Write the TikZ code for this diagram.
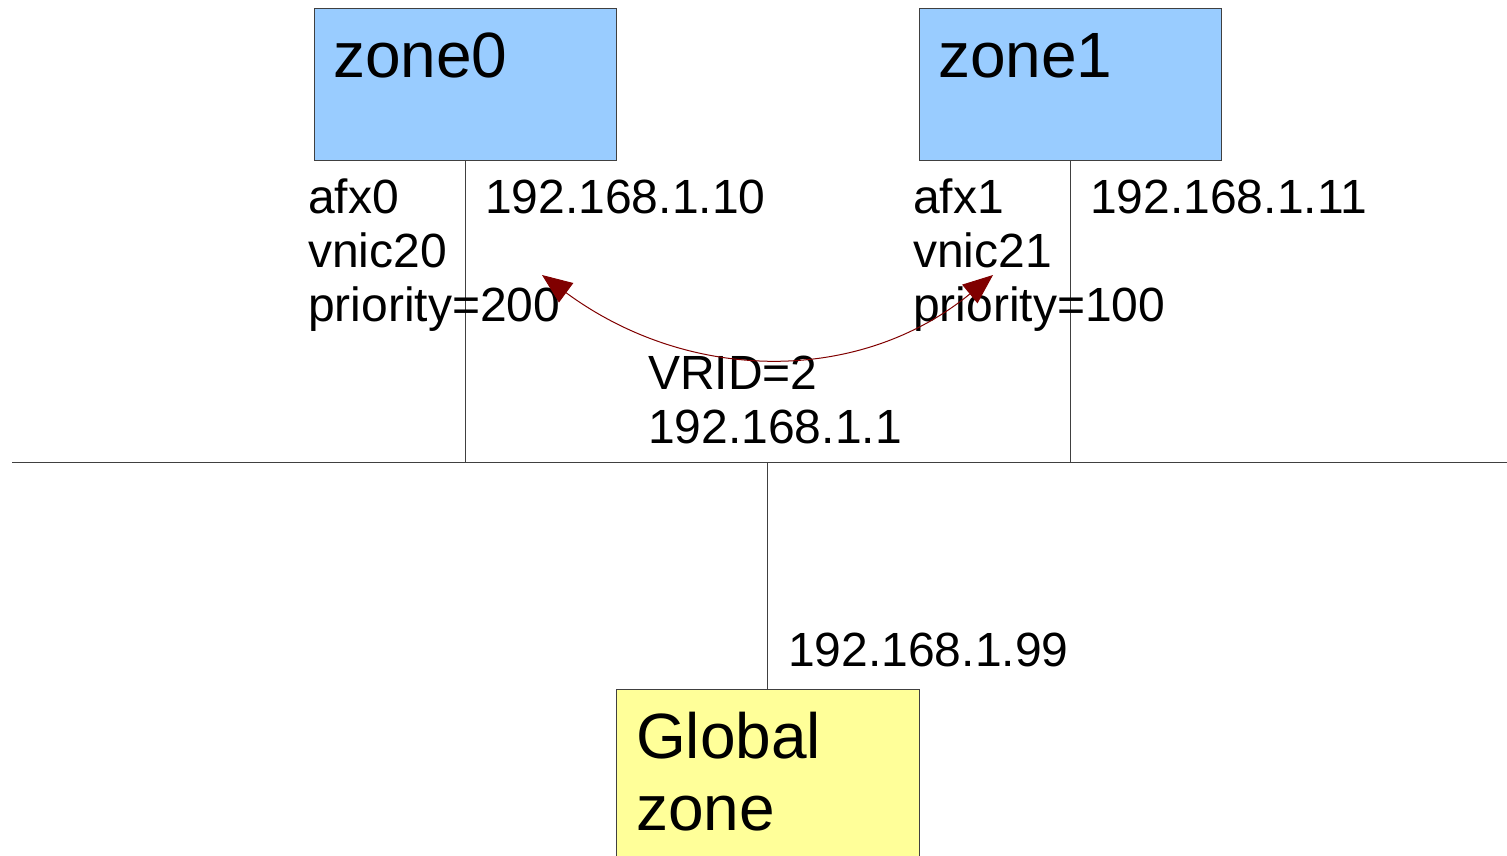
\documentclass[tikz,border=0pt]{standalone}
\usepackage{fontspec}
\setmainfont{Liberation Sans}
\usetikzlibrary{arrows.meta}
\definecolor{zoneblue}{HTML}{99CCFF}
\definecolor{globalyellow}{HTML}{FFFF99}
\definecolor{vrrpred}{HTML}{800000}
\tikzset{
  zonebox/.style={draw=black!75, line width=1pt, rectangle, inner sep=0pt},
  bigtext/.style={font=\fontsize{64}{72}\selectfont, anchor=base west, align=left, inner sep=0pt},
  lbl/.style={font=\fontsize{48}{54}\selectfont, anchor=base west, align=left, inner sep=0pt},
  wire/.style={draw=black!75, line width=1pt},
}
\begin{document}
\begin{tikzpicture}[x=1pt, y=-1pt]
\useasboundingbox (0,0) rectangle (1507,856);

\node [zonebox, fill=zoneblue, minimum width=302pt, minimum height=151pt] (zone0) at (465,84.5) {};
\node [zonebox, fill=zoneblue, minimum width=302pt, minimum height=151pt] (zone1) at (1070,84.5) {};
\node [zonebox, fill=globalyellow, minimum width=303pt, minimum height=180pt] (global) at (767.5,779) {};

\node [bigtext] (zone0name) at (333,78) {zone0};
\node [bigtext] (zone1name) at (938,78) {zone1};
\node [bigtext] (globalname) at (636,830) {Global\\zone};

\coordinate (busL) at (12,462);
\coordinate (busR) at (1507,462);
\coordinate (bus0) at (465,462);
\coordinate (bus1) at (1070,462);
\coordinate (busG) at (767.5,462);

\draw [wire] (busL) -- (busR);
\draw [wire] (zone0.south) -- (bus0);
\draw [wire] (zone1.south) -- (bus1);
\draw [wire] (global.north) -- (busG);

\node [lbl] (if0) at (308,321) {afx0\\vnic20\\priority=200};
\node [lbl] (ip0) at (485,213) {192.168.1.10};
\node [lbl] (if1) at (913,321) {afx1\\vnic21\\priority=100};
\node [lbl] (ip1) at (1090,213) {192.168.1.11};
\node [lbl] (vrid) at (648,443) {VRID=2\\192.168.1.1};
\node [lbl] (ipg) at (788,666) {192.168.1.99};

\coordinate (vrrpL) at (542,275);
\coordinate (vrrpR) at (993,275);
\draw [vrrpred, line width=1pt, {Stealth[length=30pt,width=24pt,inset=0pt]}-{Stealth[length=30pt,width=24pt,inset=0pt]}]
  (vrrpL) .. controls (690,384) and (860,384) .. (vrrpR);
\end{tikzpicture}
\end{document}
